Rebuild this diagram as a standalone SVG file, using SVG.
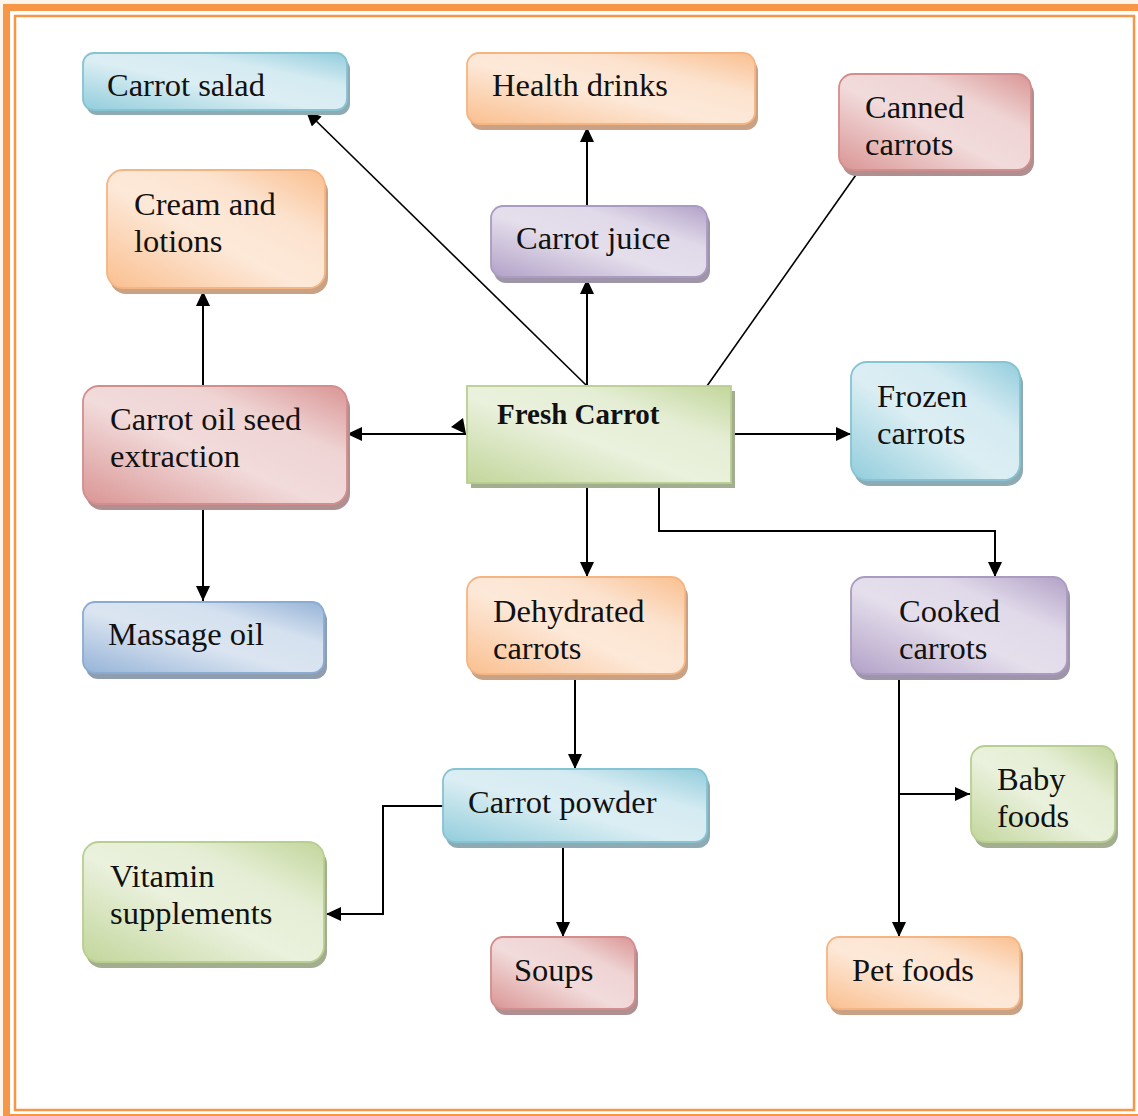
<svg xmlns="http://www.w3.org/2000/svg" width="1138" height="1116" viewBox="0 0 1138 1116">
  <defs>
    <linearGradient id="gBlue" x1="0" y1="1" x2="1" y2="0">
      <stop offset="0" stop-color="#92cddc"/><stop offset="0.45" stop-color="#dbeef3"/><stop offset="0.7" stop-color="#d5ebf2"/><stop offset="1" stop-color="#92cddc"/>
    </linearGradient>
    <linearGradient id="gOrange" x1="0" y1="1" x2="1" y2="0">
      <stop offset="0" stop-color="#fabf8f"/><stop offset="0.45" stop-color="#fde9d9"/><stop offset="0.7" stop-color="#fce3cf"/><stop offset="1" stop-color="#fabf8f"/>
    </linearGradient>
    <linearGradient id="gRed" x1="0" y1="1" x2="1" y2="0">
      <stop offset="0" stop-color="#d99594"/><stop offset="0.45" stop-color="#f2dbdb"/><stop offset="0.7" stop-color="#efd4d4"/><stop offset="1" stop-color="#d99594"/>
    </linearGradient>
    <linearGradient id="gPurple" x1="0" y1="1" x2="1" y2="0">
      <stop offset="0" stop-color="#b2a1c7"/><stop offset="0.45" stop-color="#e5dfec"/><stop offset="0.7" stop-color="#e0d9e9"/><stop offset="1" stop-color="#b2a1c7"/>
    </linearGradient>
    <linearGradient id="gGreen" x1="0" y1="1" x2="1" y2="0">
      <stop offset="0" stop-color="#c2d69b"/><stop offset="0.45" stop-color="#eaf1dd"/><stop offset="0.7" stop-color="#e5eed5"/><stop offset="1" stop-color="#c2d69b"/>
    </linearGradient>
    <linearGradient id="gSlate" x1="0" y1="1" x2="1" y2="0">
      <stop offset="0" stop-color="#95b3d7"/><stop offset="0.45" stop-color="#dbe5f1"/><stop offset="0.7" stop-color="#d5e1ef"/><stop offset="1" stop-color="#95b3d7"/>
    </linearGradient>
    <marker id="arr" viewBox="0 0 15 14" refX="15" refY="7" markerWidth="15" markerHeight="14" markerUnits="userSpaceOnUse" orient="auto">
      <path d="M0,0 L15,7 L0,14 z" fill="#000"/>
    </marker>
  </defs>
  <style>
    text { font-family: "Liberation Serif", "Times New Roman", serif; font-size: 32.5px; fill: #111; }
    .bold { font-weight: bold; font-size: 29px; }
    .box { stroke-width: 1.8; }
    .blue .box { fill: url(#gBlue); stroke: #86c3d3; }
    .blue .sh { fill: #8eaab3; }
    .orange .box { fill: url(#gOrange); stroke: #f5b583; }
    .orange .sh { fill: #c9a184; }
    .red .box { fill: url(#gRed); stroke: #d38d8c; }
    .red .sh { fill: #b08f90; }
    .purple .box { fill: url(#gPurple); stroke: #aa9bc2; }
    .purple .sh { fill: #9e95a8; }
    .green .box { fill: url(#gGreen); stroke: #b8cf90; }
    .green .sh { fill: #a3ae90; }
    .slate .box { fill: url(#gSlate); stroke: #8cabd2; }
    .slate .sh { fill: #8f9db0; }
    .conn line, .conn polyline { stroke: #000; stroke-width: 2; fill: none; }
    .conn .thin { stroke-width: 1.6; }
  </style>

  <!-- page frame -->
  <rect x="0" y="0" width="1138" height="1116" fill="#fdf4ea"/>
  <rect x="6.5" y="7.5" width="1140" height="1110" fill="#ffffff" stroke="#f79646" stroke-width="7"/>
  <rect x="15" y="16" width="1119" height="1094" fill="#ffffff" stroke="#f79646" stroke-width="2.5"/>

  <!-- connectors -->
  <g id="connectors" class="conn">
    <line class="thin" x1="586" y1="385" x2="306" y2="111" marker-end="url(#arr)"/>
    <line x1="587" y1="385" x2="587" y2="279" marker-end="url(#arr)"/>
    <line x1="587" y1="206" x2="587" y2="127" marker-end="url(#arr)"/>
    <line class="thin" x1="707" y1="386" x2="858" y2="172"/>
    <line x1="466" y1="434" x2="347" y2="434" marker-end="url(#arr)"/>
    <polygon points="451,427 463,418 466,434" fill="#000"/>
    <line x1="731" y1="434" x2="851" y2="434" marker-end="url(#arr)"/>
    <line x1="203" y1="386" x2="203" y2="291" marker-end="url(#arr)"/>
    <line x1="203" y1="504" x2="203" y2="601" marker-end="url(#arr)"/>
    <line x1="587" y1="482" x2="587" y2="577" marker-end="url(#arr)"/>
    <polyline points="659,482 659,531 995,531 995,577" marker-end="url(#arr)"/>
    <line x1="575" y1="674" x2="575" y2="769" marker-end="url(#arr)"/>
    <polyline points="443,806 383,806 383,914 326,914" marker-end="url(#arr)"/>
    <line x1="563" y1="842" x2="563" y2="937" marker-end="url(#arr)"/>
    <line x1="899" y1="674" x2="899" y2="937" marker-end="url(#arr)"/>
    <line x1="899" y1="794" x2="970" y2="794" marker-end="url(#arr)"/>
  </g>

  <!-- nodes -->
  <g id="carrot-salad" class="blue">
    <rect class="sh" x="86" y="58" width="264" height="57" rx="11"/>
    <rect class="box" x="83" y="53" width="264" height="57" rx="11"/>
    <text x="107" y="96">Carrot salad</text>
  </g>
  <g id="health-drinks" class="orange">
    <rect class="sh" x="470" y="59" width="288" height="71" rx="12"/>
    <rect class="box" x="467" y="53" width="288" height="71" rx="12"/>
    <text x="492" y="96">Health drinks</text>
  </g>
  <g id="canned-carrots" class="red">
    <rect class="sh" x="842" y="80" width="192" height="96" rx="14"/>
    <rect class="box" x="839" y="74" width="192" height="96" rx="14"/>
    <text x="865" y="118">Canned</text>
    <text x="865" y="155">carrots</text>
  </g>
  <g id="cream-lotions" class="orange">
    <rect class="sh" x="110" y="176" width="218" height="118" rx="16"/>
    <rect class="box" x="107" y="170" width="218" height="118" rx="16"/>
    <text x="134" y="215">Cream and</text>
    <text x="134" y="252">lotions</text>
  </g>
  <g id="carrot-juice" class="purple">
    <rect class="sh" x="494" y="212" width="216" height="71" rx="12"/>
    <rect class="box" x="491" y="206" width="216" height="71" rx="12"/>
    <text x="516" y="249">Carrot juice</text>
  </g>
  <g id="fresh-carrot" class="green">
    <rect class="sh" x="471" y="391" width="264" height="97"/>
    <rect class="box" x="467" y="386" width="264" height="97"/>
    <text class="bold" x="497" y="424">Fresh Carrot</text>
  </g>
  <g id="frozen-carrots" class="blue">
    <rect class="sh" x="854" y="368" width="169" height="118" rx="16"/>
    <rect class="box" x="851" y="362" width="169" height="118" rx="16"/>
    <text x="877" y="407">Frozen</text>
    <text x="877" y="444">carrots</text>
  </g>
  <g id="carrot-oil" class="red">
    <rect class="sh" x="86" y="392" width="264" height="118" rx="16"/>
    <rect class="box" x="83" y="386" width="264" height="118" rx="16"/>
    <text x="110" y="430">Carrot oil seed</text>
    <text x="110" y="467">extraction</text>
  </g>
  <g id="massage-oil" class="slate">
    <rect class="sh" x="86" y="608" width="241" height="71" rx="12"/>
    <rect class="box" x="83" y="602" width="241" height="71" rx="12"/>
    <text x="108" y="645">Massage oil</text>
  </g>
  <g id="dehydrated-carrots" class="orange">
    <rect class="sh" x="470" y="583" width="218" height="97" rx="14"/>
    <rect class="box" x="467" y="577" width="218" height="97" rx="14"/>
    <text x="493" y="622">Dehydrated</text>
    <text x="493" y="659">carrots</text>
  </g>
  <g id="cooked-carrots" class="purple">
    <rect class="sh" x="854" y="583" width="216" height="97" rx="14"/>
    <rect class="box" x="851" y="577" width="216" height="97" rx="14"/>
    <text x="899" y="622">Cooked</text>
    <text x="899" y="659">carrots</text>
  </g>
  <g id="carrot-powder" class="blue">
    <rect class="sh" x="446" y="775" width="264" height="73" rx="12"/>
    <rect class="box" x="443" y="769" width="264" height="73" rx="12"/>
    <text x="468" y="813">Carrot powder</text>
  </g>
  <g id="baby-foods" class="green">
    <rect class="sh" x="974" y="752" width="144" height="96" rx="14"/>
    <rect class="box" x="971" y="746" width="144" height="96" rx="14"/>
    <text x="997" y="790">Baby</text>
    <text x="997" y="827">foods</text>
  </g>
  <g id="vitamin-supplements" class="green">
    <rect class="sh" x="86" y="848" width="241" height="120" rx="16"/>
    <rect class="box" x="83" y="842" width="241" height="120" rx="16"/>
    <text x="110" y="887">Vitamin</text>
    <text x="110" y="924">supplements</text>
  </g>
  <g id="soups" class="red">
    <rect class="sh" x="494" y="943" width="144" height="72" rx="12"/>
    <rect class="box" x="491" y="937" width="144" height="72" rx="12"/>
    <text x="514" y="981">Soups</text>
  </g>
  <g id="pet-foods" class="orange">
    <rect class="sh" x="830" y="943" width="193" height="72" rx="12"/>
    <rect class="box" x="827" y="937" width="193" height="72" rx="12"/>
    <text x="852" y="981">Pet foods</text>
  </g>
</svg>
